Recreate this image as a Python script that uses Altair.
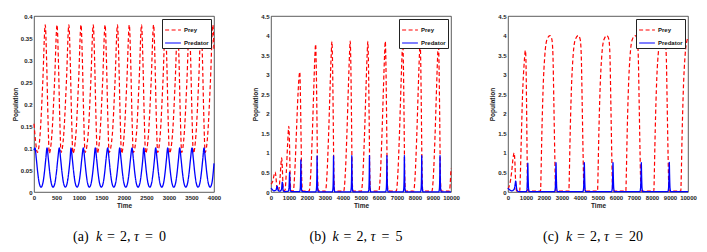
import altair as alt
import pandas as pd

SERIES = ["Prey", "Predator"]
COLORS = ["#ff0000", "#0000ff"]

# ---------------- Panel (a): k = 2, tau = 0 ----------------
a_prey_t = [0, 35, 75,
            135, 195, 250, 280, 310, 340,
            397, 457, 512, 542, 572, 602,
            660, 720, 775, 805, 835, 865,
            930, 990, 1045, 1075, 1105, 1135,
            1202, 1262, 1317, 1347, 1377, 1407,
            1465, 1525, 1580, 1610, 1640, 1670,
            1740, 1800, 1855, 1885, 1915, 1945,
            2003, 2063, 2118, 2148, 2178, 2208,
            2275, 2335, 2390, 2420, 2450, 2480,
            2543, 2603, 2658, 2688, 2718, 2748,
            2805, 2865, 2920, 2950, 2980, 3010,
            3077, 3137, 3192, 3222, 3252, 3282,
            3337, 3397, 3452, 3482, 3512, 3542,
            3599, 3659, 3714, 3744, 3774, 3804,
            3860, 3920, 3975, 4000]
a_prey_v = [0.155, 0.115, 0.09,
            0.13, 0.25, 0.38, 0.30, 0.17, 0.088,
            0.13, 0.25, 0.38, 0.30, 0.17, 0.09,
            0.13, 0.25, 0.38, 0.30, 0.17, 0.088,
            0.13, 0.25, 0.38, 0.30, 0.17, 0.09,
            0.13, 0.25, 0.38, 0.30, 0.17, 0.088,
            0.13, 0.25, 0.38, 0.30, 0.17, 0.09,
            0.13, 0.25, 0.38, 0.30, 0.17, 0.088,
            0.13, 0.25, 0.38, 0.30, 0.17, 0.09,
            0.13, 0.25, 0.38, 0.30, 0.17, 0.088,
            0.13, 0.25, 0.38, 0.30, 0.17, 0.09,
            0.13, 0.25, 0.38, 0.30, 0.17, 0.088,
            0.13, 0.25, 0.38, 0.30, 0.17, 0.09,
            0.13, 0.25, 0.38, 0.30, 0.17, 0.088,
            0.13, 0.25, 0.38, 0.30, 0.17, 0.09,
            0.13, 0.25, 0.38, 0.32]

a_pred_t = [0, 22, 52, 82, 117, 157, 197, 232, 262,
            289, 319, 349, 384, 424, 464, 499, 529,
            562, 592, 622, 657, 697, 737, 772, 802,
            822, 852, 882, 917, 957, 997, 1032, 1062,
            1096, 1126, 1156, 1191, 1231, 1271, 1306, 1336,
            1362, 1392, 1422, 1457, 1497, 1537, 1572, 1602,
            1638, 1668, 1698, 1733, 1773, 1813, 1848, 1878,
            1904, 1934, 1964, 1999, 2039, 2079, 2114, 2144,
            2178, 2208, 2238, 2273, 2313, 2353, 2388, 2418,
            2438, 2468, 2498, 2533, 2573, 2613, 2648, 2678,
            2704, 2734, 2764, 2799, 2839, 2879, 2914, 2944,
            2971, 3001, 3031, 3066, 3106, 3146, 3181, 3211,
            3238, 3268, 3298, 3333, 3373, 3413, 3448, 3478,
            3511, 3541, 3571, 3606, 3646, 3686, 3721, 3751,
            3778, 3808, 3838, 3873, 3913, 3953, 3988, 4000]
a_pred_v = [0.095, 0.1, 0.075, 0.045, 0.02, 0.011, 0.02, 0.045, 0.075,
            0.1, 0.075, 0.045, 0.02, 0.011, 0.02, 0.045, 0.075,
            0.1, 0.075, 0.045, 0.02, 0.011, 0.02, 0.045, 0.075,
            0.1, 0.075, 0.045, 0.02, 0.011, 0.02, 0.045, 0.075,
            0.1, 0.075, 0.045, 0.02, 0.011, 0.02, 0.045, 0.075,
            0.1, 0.075, 0.045, 0.02, 0.011, 0.02, 0.045, 0.075,
            0.1, 0.075, 0.045, 0.02, 0.011, 0.02, 0.045, 0.075,
            0.1, 0.075, 0.045, 0.02, 0.011, 0.02, 0.045, 0.075,
            0.1, 0.075, 0.045, 0.02, 0.011, 0.02, 0.045, 0.075,
            0.1, 0.075, 0.045, 0.02, 0.011, 0.02, 0.045, 0.075,
            0.1, 0.075, 0.045, 0.02, 0.011, 0.02, 0.045, 0.075,
            0.1, 0.075, 0.045, 0.02, 0.011, 0.02, 0.045, 0.075,
            0.1, 0.075, 0.045, 0.02, 0.011, 0.02, 0.045, 0.075,
            0.1, 0.075, 0.045, 0.02, 0.011, 0.02, 0.045, 0.075,
            0.1, 0.075, 0.045, 0.02, 0.011, 0.02, 0.05, 0.065]

# ---------------- Panel (b): k = 2, tau = 5 ----------------
b_prey_t = [0, 100, 180, 239, 280, 330, 380, 430, 500, 560, 595, 630, 670, 710,
            780, 850, 920, 990, 1030, 1070, 1110,
            1240, 1320, 1410, 1500, 1560, 1600, 1630, 1670, 1710, 1750,
            2120, 2200, 2290, 2380, 2440, 2480, 2510, 2550, 2590, 2630,
            3025, 3105, 3195, 3285, 3345, 3385, 3415, 3455, 3495, 3535,
            4040, 4120, 4210, 4300, 4360, 4400, 4430, 4470, 4510, 4550,
            5020, 5100, 5190, 5280, 5340, 5380, 5410, 5450, 5490, 5530,
            5990, 6070, 6160, 6250, 6310, 6350, 6380, 6420, 6460, 6500,
            6960, 7040, 7130, 7220, 7280, 7320, 7350, 7390, 7430, 7470,
            7925, 8005, 8095, 8185, 8245, 8285, 8315, 8355, 8395, 8435,
            8940, 9020, 9110, 9200, 9260, 9300, 9330, 9370, 9410, 9450,
            9910, 10000]
b_prey_v = [0.2, 0.28, 0.45, 0.51, 0.35, 0.1, 0.03, 0.05, 0.35, 0.75, 0.87, 0.6, 0.15, 0.03,
            0.05, 0.5, 1.2, 1.68, 1.2, 0.3, 0.03,
            0.03, 0.5, 1.5, 2.5, 2.95, 3.07, 2.6, 1.4, 0.3, 0.03,
            0.02, 0.4, 1.4, 2.7, 3.5, 3.78, 3.3, 2.0, 0.4, 0.03,
            0.02, 0.4, 1.4, 2.7, 3.5, 3.85, 3.4, 2.0, 0.4, 0.03,
            0.02, 0.4, 1.4, 2.7, 3.5, 3.86, 3.4, 2.0, 0.4, 0.03,
            0.02, 0.4, 1.4, 2.7, 3.5, 3.85, 3.4, 2.0, 0.4, 0.03,
            0.02, 0.4, 1.4, 2.7, 3.5, 3.85, 3.4, 2.0, 0.4, 0.03,
            0.02, 0.4, 1.4, 2.7, 3.5, 3.85, 3.4, 2.0, 0.4, 0.03,
            0.02, 0.4, 1.4, 2.7, 3.5, 3.86, 3.4, 2.0, 0.4, 0.03,
            0.02, 0.4, 1.4, 2.7, 3.5, 3.86, 3.4, 2.0, 0.4, 0.03,
            0.02, 0.6]

b_pred_t = [0, 60, 150, 280, 340, 400, 480, 580, 628, 680, 760,
            970, 1010, 1033, 1056, 1090, 1200,
            1590, 1625, 1648, 1660, 1672, 1695, 1730,
            2490, 2525, 2548, 2560, 2572, 2595, 2630,
            3405, 3440, 3463, 3475, 3487, 3510, 3545,
            4420, 4455, 4478, 4490, 4502, 4525, 4560,
            5400, 5435, 5458, 5470, 5482, 5505, 5540,
            6370, 6405, 6428, 6440, 6452, 6475, 6510,
            7340, 7375, 7398, 7410, 7422, 7445, 7480,
            8305, 8340, 8363, 8375, 8387, 8410, 8445,
            9320, 9355, 9378, 9390, 9402, 9425, 9460,
            10000]
b_pred_v = [0.1, 0.07, 0.03, 0.05, 0.15, 0.04, 0.02, 0.06, 0.25, 0.03, 0.01,
            0.02, 0.2, 0.5, 0.2, 0.02, 0.008,
            0.008, 0.08, 0.45, 0.82, 0.45, 0.08, 0.008,
            0.005, 0.08, 0.45, 0.92, 0.45, 0.08, 0.005,
            0.005, 0.08, 0.45, 0.92, 0.45, 0.08, 0.005,
            0.005, 0.08, 0.45, 0.93, 0.45, 0.08, 0.005,
            0.005, 0.08, 0.45, 0.93, 0.45, 0.08, 0.005,
            0.005, 0.08, 0.45, 0.93, 0.45, 0.08, 0.005,
            0.005, 0.08, 0.45, 0.93, 0.45, 0.08, 0.005,
            0.005, 0.08, 0.45, 0.93, 0.45, 0.08, 0.005,
            0.005, 0.08, 0.45, 0.93, 0.45, 0.08, 0.005,
            0.005]

# ---------------- Panel (c): k = 2, tau = 20 ----------------
c_prey_t = [0, 100, 200, 290, 340, 380, 420, 460, 500,
            650, 690, 730, 810, 900, 965, 995, 1030, 1060, 1085, 1100,
            1807, 1837, 1867, 1947, 2047, 2167, 2332, 2437, 2497, 2547, 2597, 2642, 2667,
            3380, 3410, 3440, 3520, 3620, 3740, 3905, 4010, 4070, 4120, 4170, 4215, 4240,
            4973, 5003, 5033, 5113, 5213, 5333, 5498, 5603, 5663, 5713, 5763, 5808, 5833,
            6546, 6576, 6606, 6686, 6786, 6906, 7071, 7176, 7236, 7286, 7336, 7381, 7406,
            8101, 8131, 8161, 8241, 8341, 8461, 8626, 8731, 8791, 8841, 8891, 8936, 8961,
            9600, 9630, 9660, 9740, 9840, 9960, 10000]
c_prey_v = [0.08, 0.2, 0.5, 0.9, 1.0, 0.8, 0.3, 0.05, 0.02,
            0.02, 0.5, 1.2, 2.5, 3.3, 3.62, 3.4, 2.3, 1.0, 0.1, 0.02,
            0.02, 0.5, 1.2, 2.6, 3.5, 3.9, 4.0, 3.9, 3.5, 2.3, 1.0, 0.1, 0.02,
            0.02, 0.5, 1.2, 2.6, 3.5, 3.9, 4.0, 3.9, 3.5, 2.3, 1.0, 0.1, 0.02,
            0.02, 0.5, 1.2, 2.6, 3.5, 3.9, 4.0, 3.9, 3.5, 2.3, 1.0, 0.1, 0.02,
            0.02, 0.5, 1.2, 2.6, 3.5, 3.9, 4.0, 3.9, 3.5, 2.3, 1.0, 0.1, 0.02,
            0.02, 0.5, 1.2, 2.6, 3.5, 3.85, 3.92, 3.85, 3.5, 2.3, 1.0, 0.1, 0.02,
            0.02, 0.5, 1.2, 2.6, 3.5, 3.9, 3.95]

c_pred_t = [0, 80, 200, 330, 400, 426, 450, 500, 600,
            1020, 1060, 1085, 1100, 1115, 1140, 1180,
            2587, 2627, 2652, 2667, 2682, 2707, 2747,
            4160, 4200, 4225, 4240, 4255, 4280, 4320,
            5753, 5793, 5818, 5833, 5848, 5873, 5913,
            7326, 7366, 7391, 7406, 7421, 7446, 7486,
            8881, 8921, 8946, 8961, 8976, 9001, 9041,
            10000]
c_pred_v = [0.1, 0.06, 0.03, 0.06, 0.2, 0.28, 0.2, 0.04, 0.01,
            0.01, 0.1, 0.45, 0.74, 0.45, 0.1, 0.008,
            0.008, 0.1, 0.45, 0.75, 0.45, 0.1, 0.008,
            0.008, 0.1, 0.45, 0.75, 0.45, 0.1, 0.008,
            0.008, 0.1, 0.45, 0.75, 0.45, 0.1, 0.008,
            0.008, 0.1, 0.45, 0.75, 0.45, 0.1, 0.008,
            0.008, 0.1, 0.45, 0.76, 0.45, 0.1, 0.008,
            0.008]

a_yticks = [0, 0.05, 0.1, 0.15, 0.2, 0.25, 0.3, 0.35, 0.4]
a_xticks = [0, 500, 1000, 1500, 2000, 2500, 3000, 3500, 4000]
bc_yticks = [0, 0.5, 1, 1.5, 2, 2.5, 3, 3.5, 4, 4.5]
bc_xticks = [0, 1000, 2000, 3000, 4000, 5000, 6000, 7000, 8000, 9000, 10000]

# caption pieces: (text, italic)
cap_a = [("(a)", False), ("k", True), ("=", False), ("2,", False), ("τ", True), ("=", False), ("0", False)]
cap_b = [("(b)", False), ("k", True), ("=", False), ("2,", False), ("τ", True), ("=", False), ("5", False)]
cap_c = [("(c)", False), ("k", True), ("=", False), ("2,", False), ("τ", True), ("=", False), ("20", False)]
CAP_OFFSETS = [0, 23, 34, 47, 61, 72, 86]   # layout offsets of the pieces (px)

SERIF = "Liberation Serif"
W, H = 180, 176


def caption_layers(pieces, start):
    out = []
    for (txt, ital), off in zip(pieces, CAP_OFFSETS):
        out.append(alt.Chart(pd.DataFrame({"s": [txt]})).mark_text(
            font=SERIF, fontSize=14, fontStyle="italic" if ital else "normal",
            align="left", baseline="middle", color="black"
        ).encode(text="s:N", x=alt.value(start + off), y=alt.value(H + 44.5)))
    return out


def panel(prey_t, prey_v, pred_t, pred_v, xticks, yticks, pieces, start):
    prey = pd.DataFrame({"t": prey_t, "v": prey_v, "series": "Prey"})
    pred = pd.DataFrame({"t": pred_t, "v": pred_v, "series": "Predator"})
    x = alt.X("t:Q", scale=alt.Scale(domain=[xticks[0], xticks[-1]], nice=False),
              axis=alt.Axis(values=xticks, format="d", title="Time"))
    y = alt.Y("v:Q", scale=alt.Scale(domain=[yticks[0], yticks[-1]], nice=False),
              axis=alt.Axis(values=yticks, format="~g", title="Population"))
    color = alt.Color("series:N", title=None,
                      scale=alt.Scale(domain=SERIES, range=COLORS))
    dash = alt.StrokeDash("series:N", title=None,
                          scale=alt.Scale(domain=SERIES, range=[[4, 2.5], [1, 0]]))
    l1 = alt.Chart(prey).mark_line(strokeWidth=1.2, interpolate="monotone").encode(
        x=x, y=y, color=color, strokeDash=dash)
    l2 = alt.Chart(pred).mark_line(strokeWidth=1.3, interpolate="monotone").encode(
        x=x, y=y, color=color, strokeDash=dash)
    return alt.layer(l1, l2, *caption_layers(pieces, start)).properties(width=W, height=H)


pa = panel(a_prey_t, a_prey_v, a_pred_t, a_pred_v, a_xticks, a_yticks, cap_a, 39)
pb = panel(b_prey_t, b_prey_v, b_pred_t, b_pred_v, bc_xticks, bc_yticks, cap_b, 38.5)
pc = panel(c_prey_t, c_prey_v, c_pred_t, c_pred_v, bc_xticks, bc_yticks, cap_c, 35)

chart = alt.hconcat(pa, pb, pc, spacing=57, bounds="flush").resolve_legend(
    color="independent", strokeDash="independent"
).properties(
    padding={"left": 3, "top": 4, "right": 2, "bottom": 2}
).configure_view(
    stroke="#333333", strokeWidth=0.8
).configure_axis(
    grid=False, domain=False, ticks=False, labelOverlap=False, labelFlush=False,
    labelFont="Liberation Sans", labelFontSize=6, labelFontWeight="bold",
    labelColor="#222222", labelPadding=2,
    titleFont="Liberation Sans", titleFontSize=6.5, titleFontWeight="bold",
    titleColor="#222222", titlePadding=2
).configure_legend(
    orient="top-right", offset=3, padding=2, strokeColor="#222222", fillColor="white",
    labelFont="Liberation Sans", labelFontSize=6, labelFontWeight="bold",
    labelColor="#111111", labelOffset=2,
    symbolType="stroke", symbolSize=250, symbolStrokeWidth=1.2, rowPadding=1,
    cornerRadius=0
)

chart.save("out.html", embed_options={"renderer": "svg", "actions": False})
